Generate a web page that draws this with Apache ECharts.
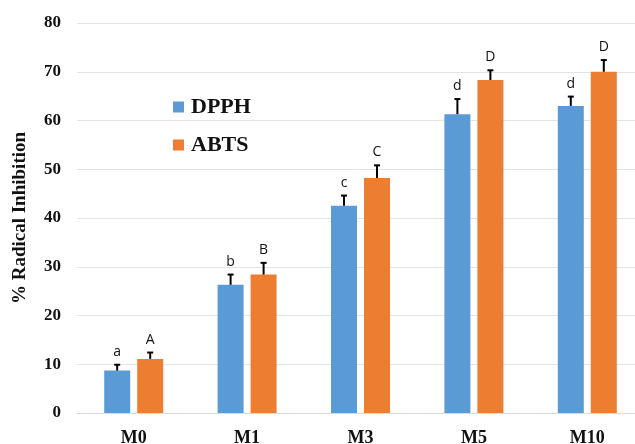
<!DOCTYPE html>
<html>
<head>
<meta charset="utf-8">
<script src="https://cdn.jsdelivr.net/npm/echarts@6/dist/echarts.min.js"></script>
<style>
html,body{margin:0;padding:0;background:#fff;}
#chart{width:635px;height:444px;}
</style>
</head>
<body>
<div id="chart"></div>
<script>
const categories = ['M0', 'M1', 'M3', 'M5', 'M10'];
const dpphValues = [8.7, 26.3, 42.5, 61.3, 63.0];
const abtsValues = [11.1, 28.4, 48.2, 68.3, 70.0];
const dpphErrors = [1.2, 2.1, 2.1, 3.1, 1.9];
const abtsErrors = [1.3, 2.4, 2.6, 2.0, 2.4];
const dpphLetters = ['a', 'b', 'c', 'd', 'd'];
const abtsLetters = ['A', 'B', 'C', 'D', 'D'];
const yTicks = [0, 10, 20, 30, 40, 50, 60, 70, 80];

const BAR_W = 26;
const BAR_GAP = 7;
const OFFSET = (BAR_W + BAR_GAP) / 2;

function errSeries(values, errors, letters, offset) {
  return {
    type: 'custom',
    silent: true,
    z: 10,
    data: values.map((v, i) => [i, v, v + errors[i]]),
    renderItem: function (params, api) {
      const i = api.value(0);
      const base = api.coord([i, api.value(1)]);
      const top = api.coord([i, api.value(2)]);
      const x = base[0] + offset;
      return {
        type: 'group',
        children: [
          { type: 'line', shape: { x1: x, y1: base[1], x2: x, y2: top[1] }, style: { stroke: '#000', lineWidth: 2 } },
          { type: 'line', shape: { x1: x - 3, y1: top[1], x2: x + 3, y2: top[1] }, style: { stroke: '#000', lineWidth: 2 } },
          { type: 'text', style: { text: letters[i], x: x, y: top[1] - 6, textAlign: 'center', textVerticalAlign: 'bottom', fill: '#111', font: '14px "Open Sans", sans-serif' } }
        ]
      };
    }
  };
}

const chart = echarts.init(document.getElementById('chart'));
chart.setOption({
  animation: false,
  backgroundColor: '#fff',
  grid: { left: 77, top: 23, width: 567, height: 390, containLabel: false, outerBoundsMode: 'none' },
  legend: {
    orient: 'vertical',
    left: 173,
    top: 96,
    padding: 0,
    itemWidth: 11,
    itemHeight: 11,
    itemGap: 16,
    icon: 'rect',
    textStyle: { fontFamily: '"Liberation Serif", serif', fontWeight: 'bold', fontSize: 22, color: '#111', padding: [0, 0, 0, 2] },
    data: ['DPPH', 'ABTS']
  },
  xAxis: {
    type: 'category',
    data: categories,
    axisLine: { show: true, lineStyle: { color: '#d9d9d9', width: 1 } },
    axisTick: { show: false },
    axisLabel: { fontFamily: '"Liberation Serif", serif', fontWeight: 'bold', fontSize: 18, color: '#111', margin: 16 }
  },
  yAxis: {
    type: 'value',
    min: yTicks[0],
    max: yTicks[yTicks.length - 1],
    interval: 10,
    name: '% Radical Inhibition',
    nameLocation: 'middle',
    nameGap: 47,
    nameRotate: 90,
    nameTextStyle: { fontFamily: '"Liberation Serif", serif', fontWeight: 'bold', fontSize: 19, color: '#111' },
    axisLine: { show: false },
    axisTick: { show: false },
    splitLine: { lineStyle: { color: '#e3e3e3', width: 1 } },
    axisLabel: { fontFamily: '"Liberation Serif", serif', fontWeight: 'bold', fontSize: 17, color: '#111', margin: 16 }
  },
  series: [
    { name: 'DPPH', type: 'bar', data: dpphValues, barWidth: BAR_W, barGap: (BAR_GAP / BAR_W * 100) + '%', itemStyle: { color: '#5b9bd5' } },
    { name: 'ABTS', type: 'bar', data: abtsValues, barWidth: BAR_W, itemStyle: { color: '#ed7d31' } },
    errSeries(dpphValues, dpphErrors, dpphLetters, -OFFSET),
    errSeries(abtsValues, abtsErrors, abtsLetters, OFFSET)
  ]
});
</script>
</body>
</html>
